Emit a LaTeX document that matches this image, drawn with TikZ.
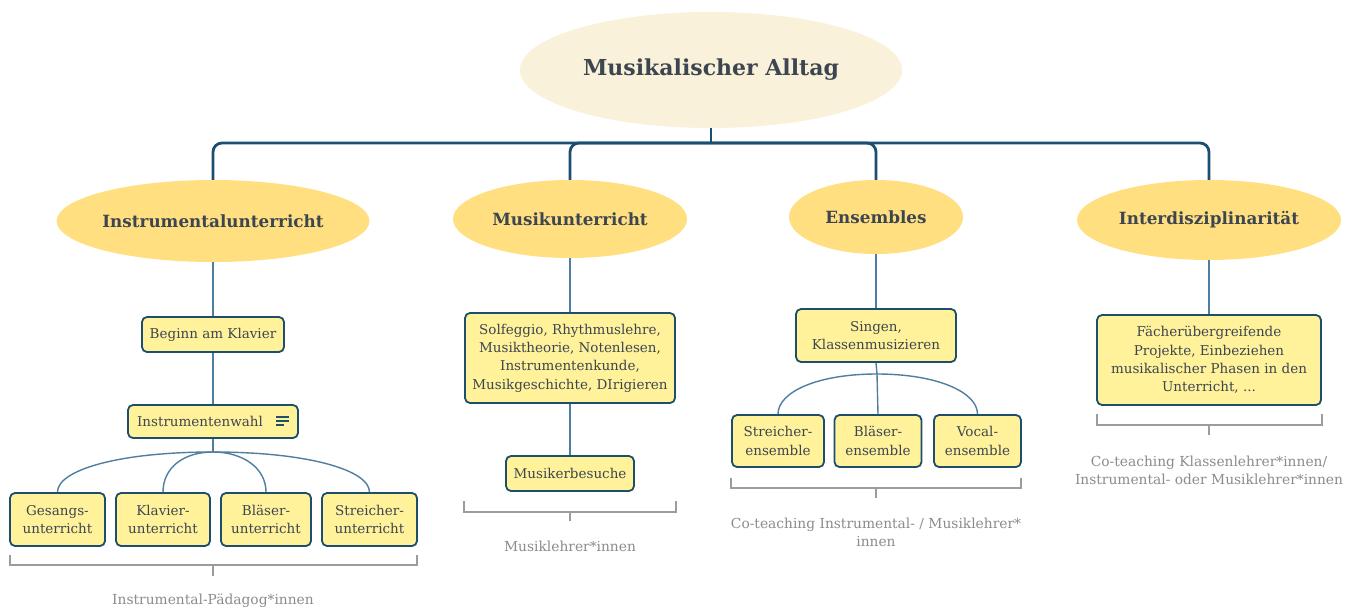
\documentclass[tikz,border=0pt]{standalone}
\usepackage{fontspec}
\setmainfont{DejaVu Serif}
\usetikzlibrary{shapes.geometric}
\definecolor{txt}{HTML}{3D4650}
\definecolor{mainln}{HTML}{1B4F72}
\definecolor{thinln}{HTML}{4F7FA0}
\definecolor{boxfill}{HTML}{FFF29B}
\definecolor{boxdraw}{HTML}{1D4E6C}
\definecolor{goldfill}{HTML}{FFDF80}
\definecolor{rootfill}{HTML}{FAF1DA}
\definecolor{brk}{HTML}{9C9C9C}
\definecolor{lbl}{HTML}{8C8C8C}
\begin{document}
\begin{tikzpicture}[x=1pt,y=-1pt,
  rootnode/.style={ellipse, fill=rootfill, inner sep=0pt, minimum width=382pt, minimum height=116pt, text=txt, font=\fontsize{22}{26}\selectfont\bfseries},
  topic/.style={ellipse, fill=goldfill, inner sep=0pt, text=txt, font=\fontsize{16.8}{20}\selectfont\bfseries},
  box/.style={draw=boxdraw, line width=1.8pt, fill=boxfill, rounded corners=5pt, align=center, text=txt, inner sep=0pt, font=\fontsize{13.5}{18.3}\selectfont},
  mainc/.style={draw=mainln, line width=2.8pt},
  thinc/.style={draw=thinln, line width=1.4pt},
  brkline/.style={draw=brk, line width=2pt},
  lblnode/.style={text=lbl, align=center, inner sep=0pt, font=\fontsize{13.8}{18}\selectfont}
]
\useasboundingbox (0,0) rectangle (1357,608);
\fill[white] (0,0) rectangle (1357,608);

% root and topics
\node[rootnode] (root) at (711,70) {Musikalischer Alltag};
\node[topic, minimum width=305pt, minimum height=82pt] (it) at (213,221) {Instrumentalunterricht};
\node[topic, minimum width=234pt, minimum height=78pt] (mu) at (570,219) {Musikunterricht};
\node[topic, minimum width=174pt, minimum height=74pt] (en) at (876,217) {Ensembles};
\node[topic, minimum width=264pt, minimum height=80pt] (id) at (1209,220) {Interdisziplinarität};

% boxes
\node[box, minimum width=142pt, minimum height=35pt] (beg) at (213,334.5) {Beginn am Klavier};
\node[box, minimum width=170pt, minimum height=33pt] (iw) at (213,421.5) {Instrumentenwahl\hspace{26pt}};
\node[box, minimum width=95pt, minimum height=53pt] (ges) at (57.5,519.5) {Gesangs-\\unterricht};
\node[box, minimum width=94pt, minimum height=53pt] (kla) at (163,519.5) {Klavier-\\unterricht};
\node[box, minimum width=90pt, minimum height=53pt] (bla) at (266,519.5) {Bläser-\\unterricht};
\node[box, minimum width=95pt, minimum height=53pt] (str) at (369.5,519.5) {Streicher-\\unterricht};

\node[box, minimum width=210pt, minimum height=90pt] (sol) at (570,358) {Solfeggio, Rhythmuslehre,\\Musiktheorie, Notenlesen,\\Instrumentenkunde,\\Musikgeschichte, DIrigieren};
\node[box, minimum width=128pt, minimum height=35pt] (mus) at (570,473.5) {Musikerbesuche};

\node[box, minimum width=160pt, minimum height=53pt] (sin) at (876,335.5) {Singen,\\Klassenmusizieren};
\node[box, minimum width=92pt, minimum height=52pt] (se) at (778,441) {Streicher-\\ensemble};
\node[box, minimum width=87pt, minimum height=52pt] (be) at (878,441) {Bläser-\\ensemble};
\node[box, minimum width=87pt, minimum height=52pt] (ve) at (977.5,441) {Vocal-\\ensemble};

\node[box, minimum width=224pt, minimum height=90pt] (fac) at (1209,360) {Fächerübergreifende\\Projekte, Einbeziehen\\musikalischer Phasen in den\\Unterricht, ...};

% icon in Instrumentenwahl
\draw[boxdraw, line width=1.6pt] (276,417) -- (289,417) (276,421) -- (289,421) (276,425) -- (284,425);

% main connectors
\coordinate (hub) at (711,143);
\draw[mainc] (root.south) -- (hub);
\foreach \t in {it,mu,en,id} \draw[mainc, rounded corners=9pt] (hub) -| (\t.north);

% thin connectors
\draw[thinc] (it.south) -- (beg.north);
\draw[thinc] (beg.south) -- (iw.north);
\coordinate (s1) at (213,452);
\draw[thinc] (iw.south) -- (s1);
\draw[thinc] (s1) to[out=180,in=90,out distance=95pt,in distance=22pt] (ges.north);
\draw[thinc] (s1) to[out=180,in=90,out distance=30pt,in distance=24pt] (kla.north);
\draw[thinc] (s1) to[out=0,in=90,out distance=30pt,in distance=24pt] (bla.north);
\draw[thinc] (s1) to[out=0,in=90,out distance=95pt,in distance=22pt] (str.north);

\draw[thinc] (mu.south) -- (sol.north);
\draw[thinc] (sol.south) -- (mus.north);

\draw[thinc] (en.south) -- (sin.north);
\coordinate (s2) at (877,374);
\draw[thinc] (sin.south) -- (s2);
\draw[thinc] (s2) to[out=180,in=90,out distance=60pt,in distance=22pt] (se.north);
\draw[thinc] (s2) -- (be.north);
\draw[thinc] (s2) to[out=0,in=90,out distance=60pt,in distance=22pt] (ve.north);

\draw[thinc] (id.south) -- (fac.north);

% brackets
\draw[brkline] (10,555) -- (10,565) -- (417,565) -- (417,555);
\draw[brkline] (213,565) -- (213,576);
\node[lblnode] (l1) at (213,601) {Instrumental-Pädagog*innen};

\draw[brkline] (464,501) -- (464,512) -- (676,512) -- (676,501);
\draw[brkline] (570,512) -- (570,521);
\node[lblnode] (l2) at (570,546) {Musiklehrer*innen};

\draw[brkline] (731,478) -- (731,488) -- (1021,488) -- (1021,478);
\draw[brkline] (876,488) -- (876,498);
\node[lblnode] (l3) at (876,532.5) {Co-teaching Instrumental- / Musiklehrer*\\innen};

\draw[brkline] (1097,414) -- (1097,425) -- (1322,425) -- (1322,414);
\draw[brkline] (1209,425) -- (1209,435);
\node[lblnode] (l4) at (1209,470.5) {Co-teaching Klassenlehrer*innen/\\Instrumental- oder Musiklehrer*innen};
\end{tikzpicture}
\end{document}
